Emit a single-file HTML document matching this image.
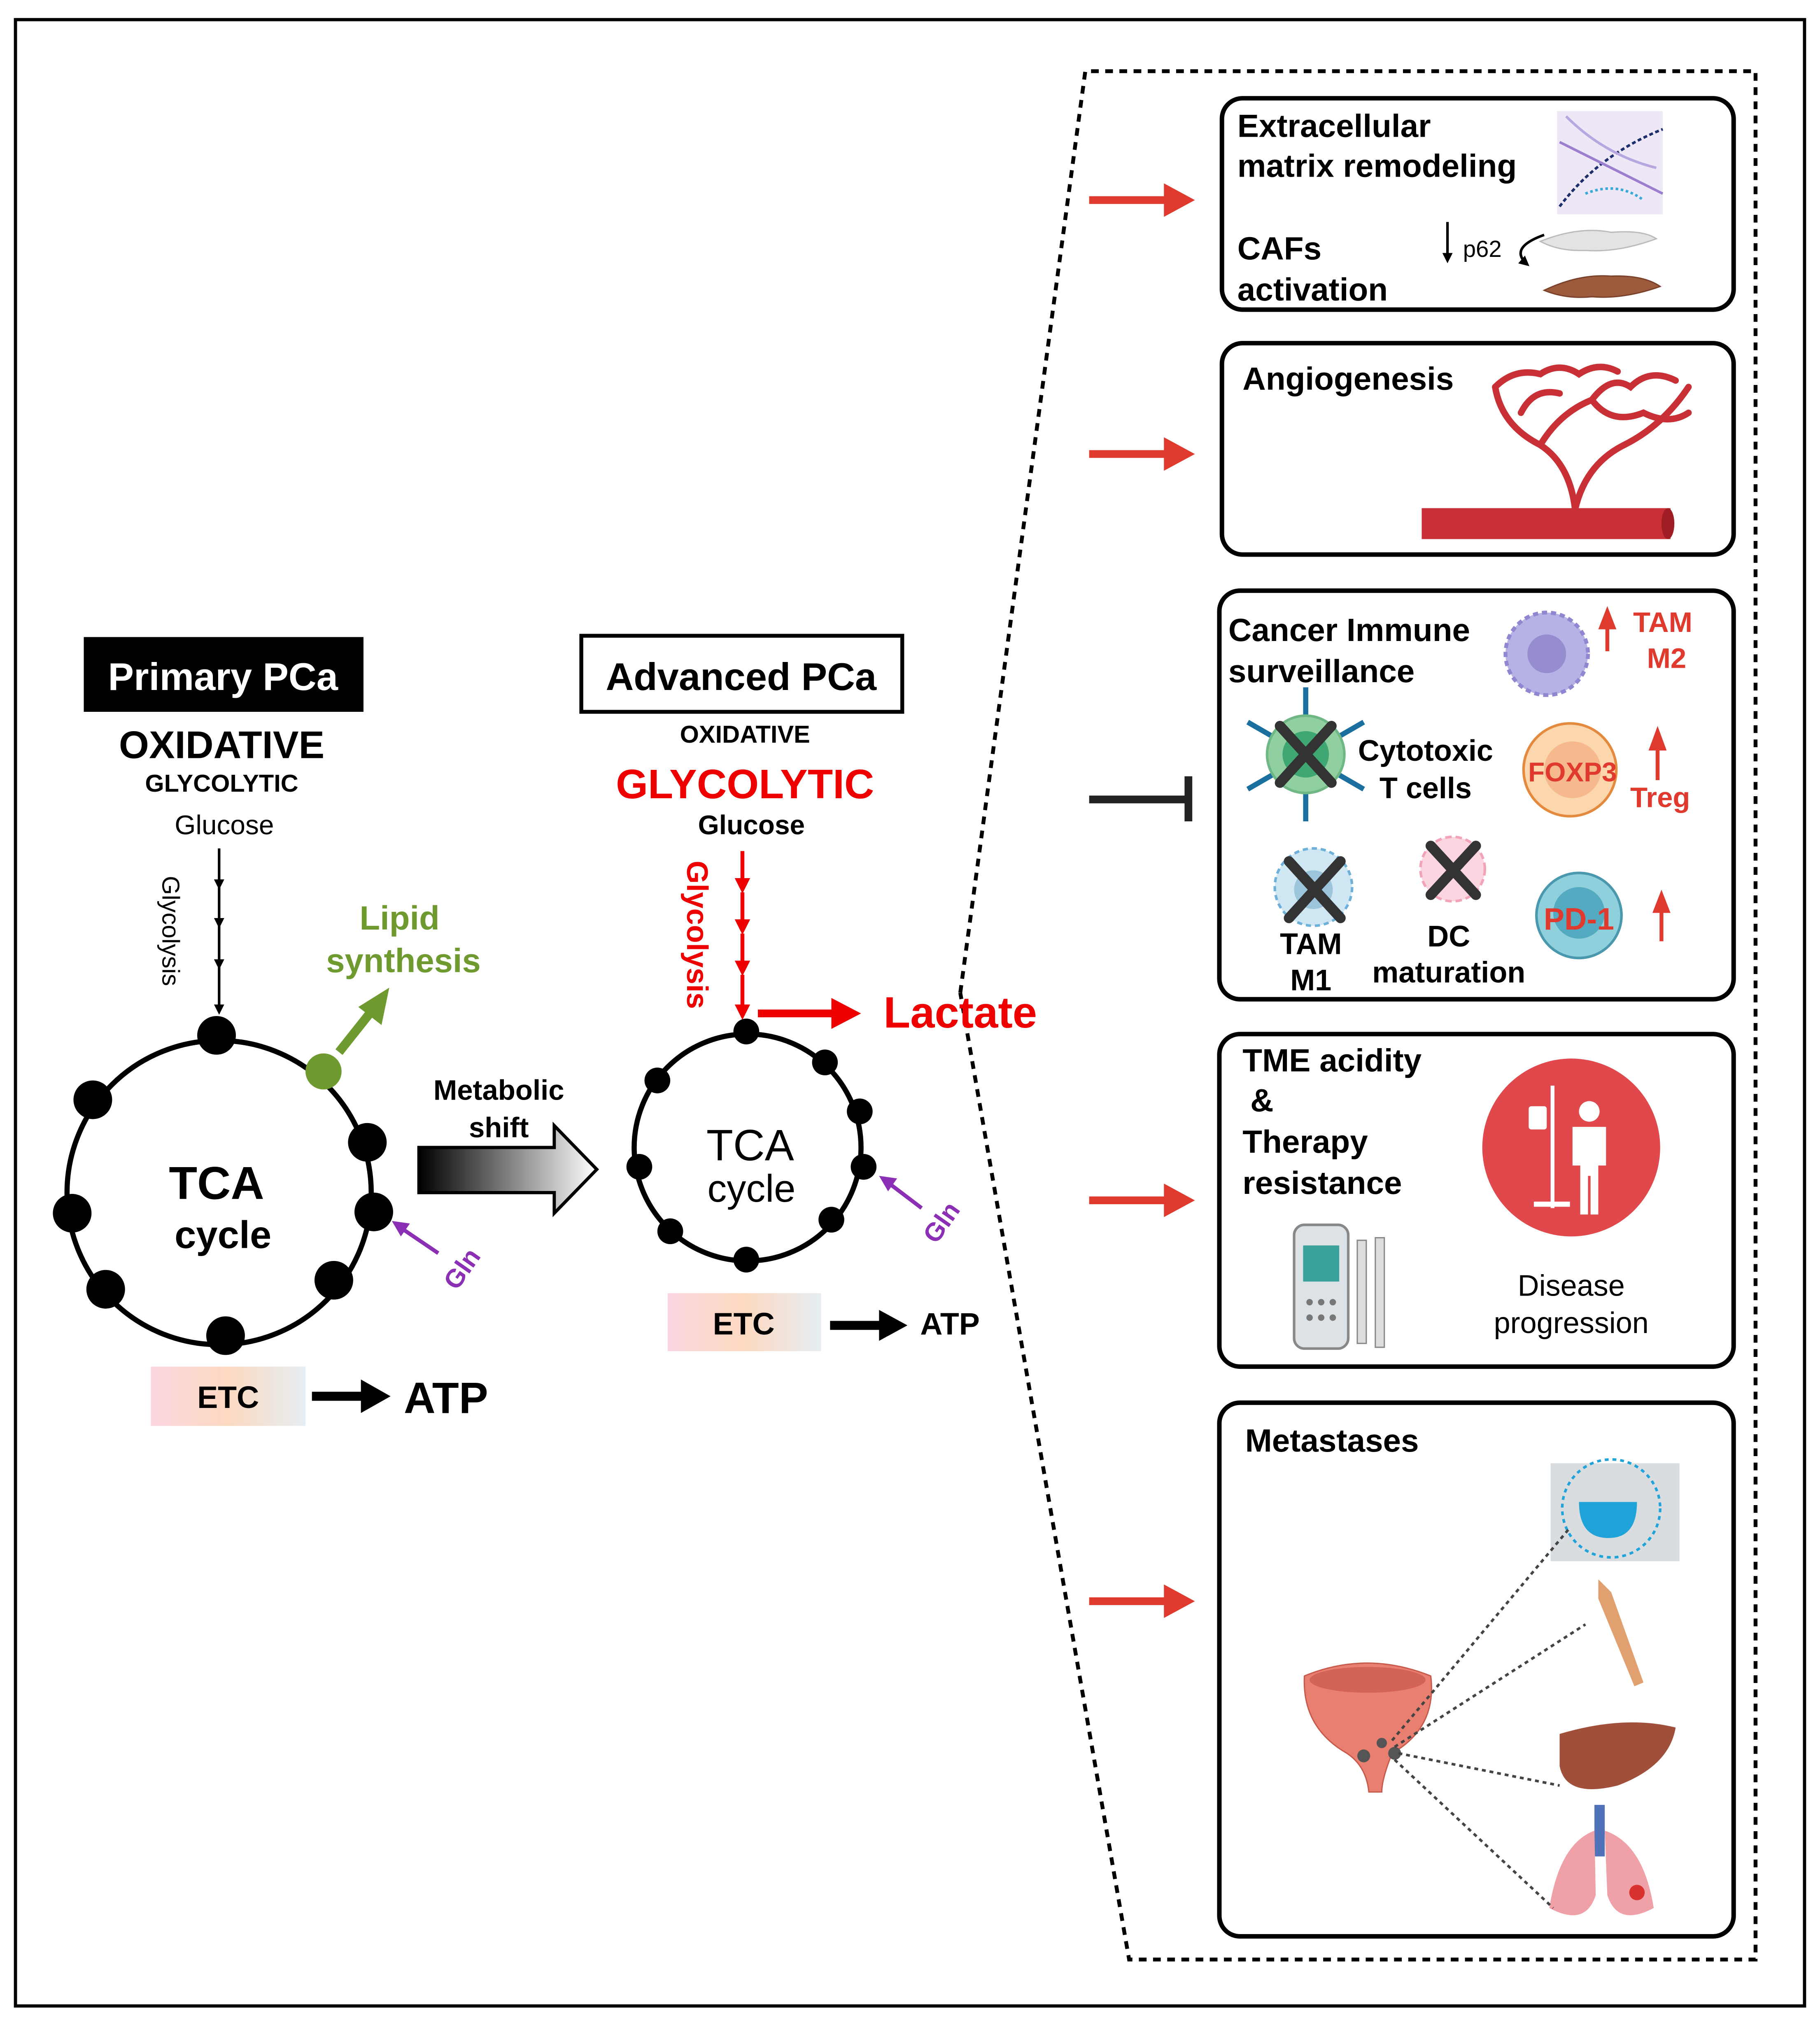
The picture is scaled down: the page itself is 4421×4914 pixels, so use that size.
<!DOCTYPE html>
<html><head><meta charset="utf-8"><style>
html,body{margin:0;padding:0;background:#fff}
svg{display:block}
text{font-family:"Liberation Sans",Arial,sans-serif}
</style></head><body>
<svg width="4421" height="4914" viewBox="0 0 1412 1569" xmlns="http://www.w3.org/2000/svg">
<defs>
<marker id="ak" markerWidth="8" markerHeight="8" refX="6" refY="4" orient="auto" markerUnits="userSpaceOnUse"><path d="M0,0 L8,4 L0,8 z" fill="#000"/></marker>
<marker id="ar" markerWidth="12" markerHeight="12" refX="9" refY="6" orient="auto" markerUnits="userSpaceOnUse"><path d="M0,0 L12,6 L0,12 z" fill="#e00"/></marker>
<linearGradient id="sh" x1="0" x2="1" y1="0" y2="0"><stop offset="0" stop-color="#000"/><stop offset="1" stop-color="#fff"/></linearGradient>
<linearGradient id="etc" x1="0" x2="1" y1="0" y2="0"><stop offset="0" stop-color="#fbd6e0"/><stop offset="0.5" stop-color="#fcd9c0"/><stop offset="1" stop-color="#e6eef3"/></linearGradient>
</defs>
<rect x="0" y="0" width="1412" height="1569" fill="#fff"/>
<rect x="12" y="15" width="1388" height="1541" fill="none" stroke="#000" stroke-width="2.5"/>
<!-- dashed callout -->
<path d="M745,770 L842,55 L1362,55 L1362,1520 L876,1520 L745,770" fill="none" stroke="#000" stroke-width="3" stroke-dasharray="6,5"/>

<!-- Primary -->
<rect x="65" y="494" width="217" height="58" fill="#000"/>
<text x="173" y="535" font-size="30" font-weight="bold" fill="#fff" text-anchor="middle">Primary PCa</text>
<text x="172" y="588" font-size="30" font-weight="bold" text-anchor="middle">OXIDATIVE</text>
<text x="172" y="614" font-size="19" font-weight="bold" text-anchor="middle">GLYCOLYTIC</text>
<text x="174" y="647" font-size="21" text-anchor="middle">Glucose</text>
<text transform="translate(126,722) rotate(90)" font-size="19" text-anchor="middle">Glycolysis</text>
<g stroke="#000" stroke-width="2" marker-end="url(#ak)">
<line x1="170" y1="658" x2="170" y2="688"/><line x1="170" y1="688" x2="170" y2="718"/><line x1="170" y1="718" x2="170" y2="750"/><line x1="170" y1="750" x2="170" y2="785"/>
</g>
<circle cx="170" cy="925" r="118" fill="none" stroke="#000" stroke-width="4"/>
<g fill="#000">
<circle cx="168" cy="803" r="15"/><circle cx="72" cy="853" r="15"/><circle cx="56" cy="941" r="15"/><circle cx="82" cy="1000" r="15"/><circle cx="175" cy="1036" r="15"/><circle cx="259" cy="993" r="15"/><circle cx="290" cy="940" r="15"/><circle cx="285" cy="886" r="15"/>
</g>
<circle cx="251" cy="831" r="14" fill="#6e9a2f"/>
<line x1="263" y1="816" x2="290" y2="782" stroke="#6e9a2f" stroke-width="7"/>
<path d="M302,766 L296,795 L278,781 z" fill="#6e9a2f"/>
<text x="310" y="721" font-size="26" font-weight="bold" fill="#6e9a2f" text-anchor="middle">Lipid</text>
<text x="313" y="754" font-size="26" font-weight="bold" fill="#6e9a2f" text-anchor="middle">synthesis</text>
<text x="168" y="930" font-size="36" font-weight="bold" text-anchor="middle">TCA</text>
<text x="173" y="968" font-size="30" font-weight="bold" text-anchor="middle">cycle</text>
<line x1="340" y1="972" x2="312" y2="953" stroke="#8b2fb5" stroke-width="3"/>
<path d="M304,947 L318,949 L311,959 z" fill="#8b2fb5"/>
<text transform="translate(364,988) rotate(-55)" font-size="20" font-weight="bold" fill="#8b2fb5" text-anchor="middle">Gln</text>
<rect x="117" y="1060" width="120" height="46" fill="url(#etc)"/>
<text x="177" y="1092" font-size="24" font-weight="bold" text-anchor="middle">ETC</text>
<line x1="242" y1="1083" x2="282" y2="1083" stroke="#000" stroke-width="7"/>
<path d="M280,1070 L303,1083 L280,1096 z"/>
<text x="346" y="1096" font-size="34" font-weight="bold" text-anchor="middle">ATP</text>

<!-- Metabolic shift -->
<text x="387" y="853" font-size="22" font-weight="bold" text-anchor="middle">Metabolic</text>
<text x="387" y="882" font-size="22" font-weight="bold" text-anchor="middle">shift</text>
<path d="M325,890 L430,890 L430,873 L463,907 L430,941 L430,925 L325,925 z" fill="url(#sh)" stroke="#000" stroke-width="2.5"/>

<!-- Advanced -->
<rect x="451" y="493" width="249" height="59" fill="#fff" stroke="#000" stroke-width="3"/>
<text x="575" y="535" font-size="30" font-weight="bold" text-anchor="middle">Advanced PCa</text>
<text x="578" y="576" font-size="19" font-weight="bold" text-anchor="middle">OXIDATIVE</text>
<text x="578" y="619" font-size="32" font-weight="bold" fill="#e00" text-anchor="middle">GLYCOLYTIC</text>
<text x="583" y="647" font-size="21" font-weight="bold" text-anchor="middle">Glucose</text>
<text transform="translate(533,725) rotate(90)" font-size="23" font-weight="bold" fill="#e00" text-anchor="middle">Glycolysis</text>
<g stroke="#e00" stroke-width="3" marker-end="url(#ar)">
<line x1="576" y1="660" x2="576" y2="690"/><line x1="576" y1="692" x2="576" y2="722"/><line x1="576" y1="724" x2="576" y2="754"/><line x1="576" y1="756" x2="576" y2="788"/>
</g>
<line x1="588" y1="786" x2="648" y2="786" stroke="#e00" stroke-width="6"/>
<path d="M645,774 L668,786 L645,798 z" fill="#e00"/>
<text x="745" y="797" font-size="34" font-weight="bold" fill="#e00" text-anchor="middle">Lactate</text>
<circle cx="580" cy="890" r="88" fill="none" stroke="#000" stroke-width="4"/>
<g fill="#000">
<circle cx="579" cy="800" r="10"/><circle cx="510" cy="838" r="10"/><circle cx="496" cy="905" r="10"/><circle cx="520" cy="955" r="10"/><circle cx="579" cy="977" r="10"/><circle cx="645" cy="946" r="10"/><circle cx="670" cy="905" r="10"/><circle cx="667" cy="862" r="10"/><circle cx="640" cy="824" r="10"/>
</g>
<text x="582" y="900" font-size="34" text-anchor="middle">TCA</text>
<text x="583" y="932" font-size="30" text-anchor="middle">cycle</text>
<line x1="715" y1="937" x2="690" y2="918" stroke="#8b2fb5" stroke-width="3"/>
<path d="M682,912 L696,914 L689,924 z" fill="#8b2fb5"/>
<text transform="translate(736,952) rotate(-55)" font-size="20" font-weight="bold" fill="#8b2fb5" text-anchor="middle">Gln</text>
<rect x="518" y="1003" width="119" height="45" fill="url(#etc)"/>
<text x="577" y="1035" font-size="24" font-weight="bold" text-anchor="middle">ETC</text>
<line x1="644" y1="1028" x2="684" y2="1028" stroke="#000" stroke-width="7"/>
<path d="M682,1016 L704,1028 L682,1040 z"/>
<text x="737" y="1035" font-size="24" font-weight="bold" text-anchor="middle">ATP</text>

<!-- arrows to panels -->
<g fill="#e03a2e">
<rect x="845" y="152" width="62" height="6"/><path d="M903,142 L927,155 L903,168 z"/>
<rect x="845" y="349" width="62" height="6"/><path d="M903,339 L927,352 L903,365 z"/>
<rect x="845" y="928" width="62" height="6"/><path d="M903,918 L927,931 L903,944 z"/>
<rect x="845" y="1239" width="62" height="6"/><path d="M903,1229 L927,1242 L903,1255 z"/>
</g>
<line x1="845" y1="620" x2="920" y2="620" stroke="#222" stroke-width="6"/>
<line x1="922" y1="602" x2="922" y2="637" stroke="#222" stroke-width="6"/>

<!-- Panel 1 -->
<rect x="948" y="76" width="397" height="164" rx="16" fill="#fff" stroke="#000" stroke-width="3.5"/>
<text x="960" y="106" font-size="25" font-weight="bold">Extracellular</text>
<text x="960" y="137" font-size="25" font-weight="bold">matrix remodeling</text>
<text x="960" y="201" font-size="25" font-weight="bold">CAFs</text>
<text x="960" y="233" font-size="25" font-weight="bold">activation</text>
<rect x="1208" y="86" width="82" height="80" fill="#eee8f6"/>
<g fill="none" stroke-width="2">
<path d="M1210,160 Q1240,120 1290,100" stroke="#1c2d6b" stroke-dasharray="3,2"/>
<path d="M1210,110 Q1250,130 1290,150" stroke="#9a7fcf"/>
<path d="M1215,90 Q1245,120 1285,130" stroke="#b7a6e0"/>
<path d="M1230,150 Q1255,140 1275,155" stroke="#38a8d8" stroke-dasharray="2,2"/>
</g>
<line x1="1123" y1="172" x2="1123" y2="202" stroke="#000" stroke-width="2" marker-end="url(#ak)"/>
<text x="1135" y="199" font-size="18">p62</text>
<path d="M1198,182 Q1170,192 1185,205" fill="none" stroke="#000" stroke-width="2" marker-end="url(#ak)"/>
<path d="M1195,187 Q1225,175 1250,180 Q1275,178 1285,185 Q1255,196 1230,194 Q1210,195 1195,187 z" fill="#e3e3e3" stroke="#bbb"/>
<path d="M1198,225 Q1225,212 1250,214 Q1275,213 1288,222 Q1260,232 1235,230 Q1215,232 1198,225 z" fill="#9c5b3d" stroke="#7a412a"/>

<!-- Panel 2 -->
<rect x="948" y="266" width="397" height="164" rx="16" fill="#fff" stroke="#000" stroke-width="3.5"/>
<text x="964" y="302" font-size="25" font-weight="bold">Angiogenesis</text>
<rect x="1103" y="394" width="193" height="24" fill="#c93036"/>
<ellipse cx="1294" cy="406" rx="5" ry="12" fill="#9e1c22"/>
<g fill="none" stroke="#c93036" stroke-width="5" stroke-linecap="round">
<path d="M1222,395 Q1218,360 1195,345 Q1165,330 1160,300"/>
<path d="M1222,395 Q1230,360 1260,345 Q1290,330 1310,300"/>
<path d="M1195,345 Q1210,320 1235,310 Q1250,290 1265,300 Q1280,285 1300,295"/>
<path d="M1160,300 Q1175,285 1195,290 Q1210,280 1225,290 Q1240,280 1255,288"/>
<path d="M1235,310 Q1250,330 1275,320 Q1295,330 1310,320"/>
<path d="M1180,320 Q1190,300 1210,305"/>
</g>

<!-- Panel 3 -->
<rect x="946" y="458" width="399" height="317" rx="16" fill="#fff" stroke="#000" stroke-width="3.5"/>
<text x="953" y="497" font-size="25" font-weight="bold">Cancer Immune</text>
<text x="953" y="529" font-size="25" font-weight="bold">surveillance</text>
<circle cx="1200" cy="507" r="32" fill="#b7b2e6" stroke="#8f87d0" stroke-width="3" stroke-dasharray="4,3"/>
<circle cx="1200" cy="507" r="15" fill="#958dcd"/>
<line x1="1247" y1="505" x2="1247" y2="485" stroke="#e03a2e" stroke-width="3"/><path d="M1240,488 L1247,470 L1254,488 z" fill="#e03a2e"/>
<text x="1290" y="490" font-size="22" font-weight="bold" fill="#e03a2e" text-anchor="middle">TAM</text>
<text x="1293" y="518" font-size="22" font-weight="bold" fill="#e03a2e" text-anchor="middle">M2</text>
<g stroke="#1b6f9e" stroke-width="4">
<line x1="1013" y1="533" x2="1013" y2="637"/><line x1="968" y1="560" x2="1058" y2="612"/><line x1="968" y1="612" x2="1058" y2="560"/>
</g>
<circle cx="1013" cy="585" r="30" fill="#8fcfa0" stroke="#6fb784" stroke-width="2"/>
<circle cx="1013" cy="585" r="18" fill="#3fa872"/>
<g stroke="#333" stroke-width="8" stroke-linecap="round"><line x1="993" y1="563" x2="1033" y2="607"/><line x1="1033" y1="563" x2="993" y2="607"/></g>
<text x="1106" y="590" font-size="23" font-weight="bold" text-anchor="middle">Cytotoxic</text>
<text x="1106" y="619" font-size="23" font-weight="bold" text-anchor="middle">T cells</text>
<circle cx="1218" cy="597" r="36" fill="#fcd7ad" stroke="#e48a3e" stroke-width="2"/>
<circle cx="1220" cy="597" r="22" fill="#f6b98d"/>
<text x="1220" y="606" font-size="21" font-weight="bold" fill="#e03a2e" text-anchor="middle">FOXP3</text>
<line x1="1286" y1="605" x2="1286" y2="580" stroke="#e03a2e" stroke-width="3"/><path d="M1279,582 L1286,563 L1293,582 z" fill="#e03a2e"/>
<text x="1288" y="626" font-size="22" font-weight="bold" fill="#e03a2e" text-anchor="middle">Treg</text>
<circle cx="1019" cy="688" r="30" fill="#cfe6f3" stroke="#6fb0d8" stroke-width="2" stroke-dasharray="4,3"/>
<circle cx="1019" cy="690" r="15" fill="#9cc5dc"/>
<g stroke="#333" stroke-width="8" stroke-linecap="round"><line x1="1000" y1="668" x2="1040" y2="712"/><line x1="1040" y1="668" x2="1000" y2="712"/></g>
<text x="1017" y="740" font-size="23" font-weight="bold" text-anchor="middle">TAM</text>
<text x="1017" y="768" font-size="23" font-weight="bold" text-anchor="middle">M1</text>
<circle cx="1127" cy="674" r="25" fill="#fbd5df" stroke="#f2a3b8" stroke-width="2" stroke-dasharray="5,3"/>
<g stroke="#333" stroke-width="8" stroke-linecap="round"><line x1="1110" y1="656" x2="1145" y2="694"/><line x1="1145" y1="656" x2="1110" y2="694"/></g>
<text x="1124" y="734" font-size="23" font-weight="bold" text-anchor="middle">DC</text>
<text x="1124" y="762" font-size="23" font-weight="bold" text-anchor="middle">maturation</text>
<circle cx="1225" cy="710" r="33" fill="#8fd0dc" stroke="#4a98ad" stroke-width="2"/>
<circle cx="1225" cy="708" r="20" fill="#54abc1"/>
<text x="1225" y="721" font-size="24" font-weight="bold" fill="#e03a2e" text-anchor="middle">PD-1</text>
<line x1="1289" y1="730" x2="1289" y2="705" stroke="#e03a2e" stroke-width="3"/><path d="M1282,708 L1289,690 L1296,708 z" fill="#e03a2e"/>

<!-- Panel 4 -->
<rect x="946" y="802" width="399" height="258" rx="16" fill="#fff" stroke="#000" stroke-width="3.5"/>
<text x="964" y="831" font-size="25" font-weight="bold">TME acidity</text>
<text x="970" y="862" font-size="25" font-weight="bold">&amp;</text>
<text x="964" y="894" font-size="25" font-weight="bold">Therapy</text>
<text x="964" y="926" font-size="25" font-weight="bold">resistance</text>
<circle cx="1219" cy="890" r="69" fill="#e0484b"/>
<g fill="#fff"><circle cx="1233" cy="862" r="8"/><path d="M1220,874 h26 v30 h-6 v38 h-6 v-30 h-2 v30 h-6 v-38 h-6 z"/><rect x="1203" y="842" width="3" height="95"/><rect x="1186" y="858" width="14" height="18" rx="2"/><rect x="1190" y="932" width="28" height="4"/></g>
<rect x="1004" y="950" width="42" height="96" rx="8" fill="#dde2e6" stroke="#888" stroke-width="2"/>
<rect x="1011" y="966" width="28" height="28" fill="#3aa29a"/>
<g fill="#777"><circle cx="1016" cy="1010" r="2.5"/><circle cx="1025" cy="1010" r="2.5"/><circle cx="1034" cy="1010" r="2.5"/><circle cx="1016" cy="1022" r="2.5"/><circle cx="1025" cy="1022" r="2.5"/><circle cx="1034" cy="1022" r="2.5"/></g>
<rect x="1053" y="962" width="7" height="80" fill="#ddd" stroke="#888"/>
<rect x="1067" y="960" width="7" height="85" fill="#ddd" stroke="#888"/>
<text x="1219" y="1005" font-size="23" text-anchor="middle">Disease</text>
<text x="1219" y="1034" font-size="23" text-anchor="middle">progression</text>

<!-- Panel 5 -->
<rect x="946" y="1088" width="399" height="414" rx="16" fill="#fff" stroke="#000" stroke-width="3.5"/>
<text x="966" y="1126" font-size="25" font-weight="bold">Metastases</text>
<rect x="1203" y="1135" width="100" height="76" fill="#d9dde0"/>
<path d="M1225,1165 h45 q0,28 -22,28 q-23,0 -23,-28z" fill="#1fa3d8"/>
<circle cx="1250" cy="1170" r="38" fill="none" stroke="#1fa3d8" stroke-width="2" stroke-dasharray="3,3"/>
<path d="M1240,1225 L1250,1235 L1275,1305 L1268,1308 L1240,1240 Z" fill="#e0a070"/>
<path d="M1210,1345 Q1260,1330 1300,1340 Q1295,1370 1255,1385 Q1215,1395 1210,1370 z" fill="#a0503a"/>
<rect x="1237" y="1400" width="8" height="40" fill="#4f72b8"/>
<path d="M1237,1420 Q1210,1430 1202,1480 Q1230,1495 1238,1470 z" fill="#f0a1a8"/>
<path d="M1245,1420 Q1275,1430 1283,1480 Q1255,1495 1247,1470 z" fill="#f0a1a8"/>
<circle cx="1270" cy="1468" r="6" fill="#d9322e"/>
<path d="M1012,1300 Q1060,1280 1110,1300 Q1115,1340 1080,1360 Q1072,1380 1072,1390 L1062,1390 Q1060,1370 1045,1360 Q1010,1340 1012,1300 z" fill="#e87f70" stroke="#c85a4c"/>
<ellipse cx="1061" cy="1303" rx="45" ry="10" fill="#d36356"/>
<g fill="#555"><circle cx="1058" cy="1362" r="5"/><circle cx="1082" cy="1360" r="5"/><circle cx="1072" cy="1352" r="4"/></g>
<g stroke="#444" stroke-width="2" stroke-dasharray="3,3" fill="none">
<line x1="1080" y1="1350" x2="1218" y2="1185"/><line x1="1082" y1="1355" x2="1230" y2="1260"/><line x1="1085" y1="1360" x2="1210" y2="1385"/><line x1="1082" y1="1365" x2="1205" y2="1480"/>
</g>
</svg>
</body></html>
